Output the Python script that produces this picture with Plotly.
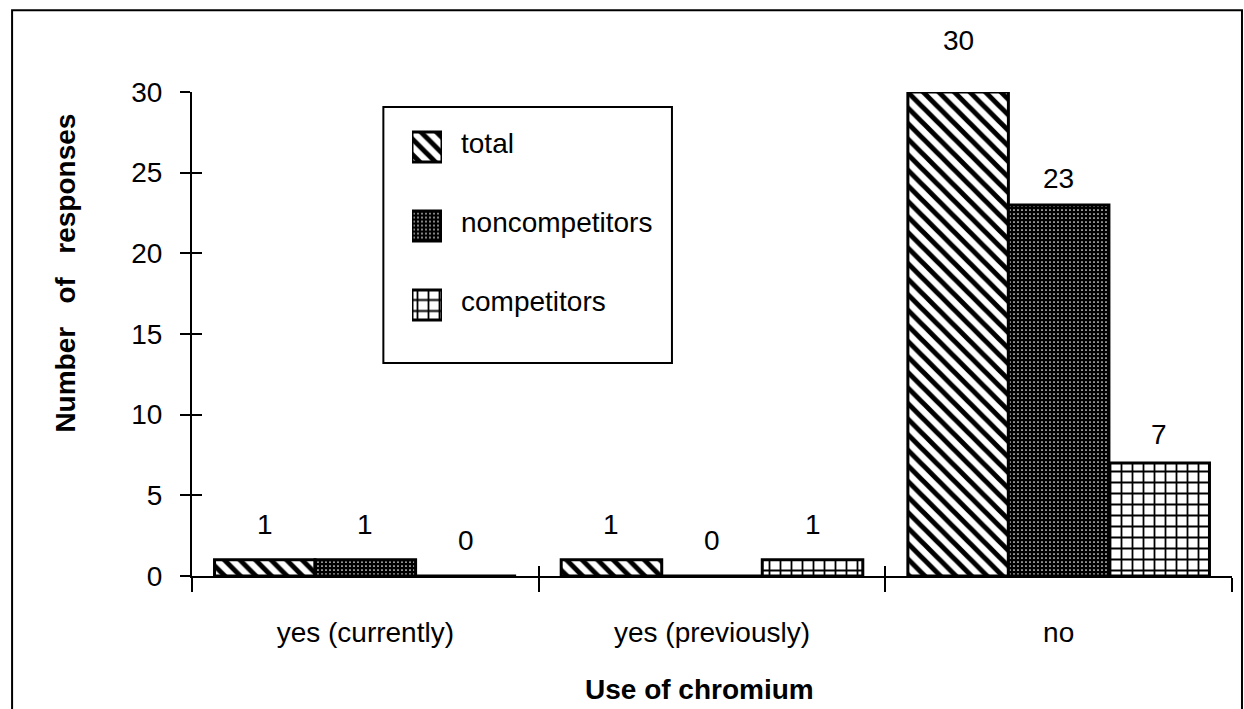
import plotly.graph_objects as go

categories = ["yes (currently)", "yes (previously)", "no"]
series_names = ["total", "noncompetitors", "competitors"]
total = [1, 1, 30]
noncompetitors = [1, 0, 23]
competitors = [0, 1, 7]
y_ticks = [0, 5, 10, 15, 20, 25, 30]

values = [total, noncompetitors, competitors]
# vertical offsets (px) of value labels above bar tops
label_shift = [[35, 35, 52], [35, 36, 26], [36, 35, 29]]

FONT = "Liberation Sans, Arial, Helvetica, sans-serif"
xpos = list(range(len(categories)))

patterns = [
    dict(shape="\\", fgcolor="black", bgcolor="white", size=11, solidity=0.45, fillmode="replace"),
    dict(shape=".", fgcolor="white", bgcolor="black", size=4, solidity=0.15, fillmode="replace"),
    dict(shape="+", fgcolor="black", bgcolor="white", size=11, solidity=0.3, fillmode="replace"),
]

fig = go.Figure()
for j, name in enumerate(series_names):
    fig.add_trace(go.Bar(
        x=xpos, y=values[j], name=name, showlegend=False,
        marker=dict(color="white", pattern=patterns[j], line=dict(color="black", width=3)),
    ))

# legend swatches drawn as bars in a small auxiliary axis
legend_pos = [2, 1, 0]
for j, name in enumerate(series_names):
    fig.add_trace(go.Bar(
        x=[1], y=[legend_pos[j]], orientation="h", width=0.38, xaxis="x3", yaxis="y3",
        marker=dict(color="white", pattern=patterns[j], line=dict(color="black", width=3)),
        showlegend=False, hoverinfo="skip",
    ))

bargap = 0.13
bw = (1 - bargap) / 3
annotations = []
for j in range(3):
    for i in range(3):
        annotations.append(dict(
            x=i + (j - 1) * bw, y=values[j][i], xref="x", yref="y",
            text=str(values[j][i]), showarrow=False, yanchor="middle",
            yshift=label_shift[j][i], font=dict(size=28, color="black", family=FONT),
        ))
for j, name in enumerate(series_names):
    annotations.append(dict(
        x=1, y=legend_pos[j], xref="x3", yref="y3", text=name, showarrow=False,
        xanchor="left", yanchor="middle", xshift=17, yshift=4,
        font=dict(size=28, color="black", family=FONT),
    ))
annotations.append(dict(
    x=0.488, y=-0.2355, xref="paper", yref="paper", text="<b>Use of chromium</b>",
    showarrow=False, font=dict(size=28, color="black", family=FONT), yanchor="middle",
))
annotations.append(dict(
    x=-0.122, y=0.625, xref="paper", yref="paper",
    text="<b>Number\u00a0\u00a0 of\u00a0\u00a0 responses</b>", textangle=-90,
    showarrow=False, font=dict(size=28, color="black", family=FONT),
    xanchor="center", yanchor="middle",
))

shapes = [
    dict(type="rect", xref="paper", yref="paper", x0=-0.173, x1=1.0096, y0=-0.35, y1=1.169,
         line=dict(color="black", width=2), fillcolor="rgba(0,0,0,0)", layer="below"),
    dict(type="rect", xref="paper", yref="paper", x0=0.184, x1=0.4615, y0=0.44, y1=0.969,
         line=dict(color="black", width=2), fillcolor="white", layer="below"),
]

fig.update_layout(
    width=1244, height=709,
    margin=dict(l=192, r=12, t=92, b=133),
    paper_bgcolor="white", plot_bgcolor="rgba(0,0,0,0)",
    barmode="group", bargap=bargap, bargroupgap=0,
    font=dict(family=FONT, size=28, color="black"),
    showlegend=False,
    annotations=annotations,
    shapes=shapes,
    xaxis=dict(
        range=[-0.5, 2.5], tickmode="array", tickvals=xpos, ticktext=categories,
        ticks="", showgrid=False, zeroline=False, showline=True, linecolor="black", linewidth=2,
        ticklabelstandoff=30, tickfont=dict(size=28),
        minor=dict(tickmode="array", tickvals=[-0.5, 0.5, 1.5, 2.5], ticks="outside",
                   ticklen=14, tickwidth=2, tickcolor="black", showgrid=False),
    ),
    xaxis2=dict(
        range=[-0.5, 2.5], overlaying="x", anchor="y", side="bottom", tickmode="array",
        tickvals=[-0.5, 0.5, 1.5, 2.5], ticks="inside", ticklen=10, tickwidth=2,
        tickcolor="black", showticklabels=False, showgrid=False, zeroline=False, showline=False,
    ),
    yaxis=dict(
        range=[0, 30], tickmode="array", tickvals=y_ticks, ticks="outside", ticklen=10,
        tickwidth=2, tickcolor="black", showgrid=False, zeroline=False, showline=True,
        linecolor="black", linewidth=2, tickfont=dict(size=28), ticklabelstandoff=12,
    ),
    yaxis2=dict(
        range=[0, 30], overlaying="y", anchor="x", side="left", tickmode="array",
        tickvals=y_ticks, ticks="inside", ticklen=10, tickwidth=2, tickcolor="black",
        showticklabels=False, showgrid=False, zeroline=False, showline=False,
    ),
    xaxis3=dict(domain=[(412 - 192) / 1040, (442 - 192) / 1040], range=[0, 1], anchor="y3",
                visible=False, fixedrange=True),
    yaxis3=dict(domain=[(576 - 344.5) / 484, (576 - 107.5) / 484], range=[-0.5, 2.5],
                anchor="x3", visible=False, fixedrange=True),
)
# dummy invisible trace to activate overlay axes
fig.add_trace(go.Scatter(x=[0], y=[0], xaxis="x2", yaxis="y2", mode="markers",
                         marker=dict(opacity=0), showlegend=False, hoverinfo="skip"))

fig.write_html("out.html")
